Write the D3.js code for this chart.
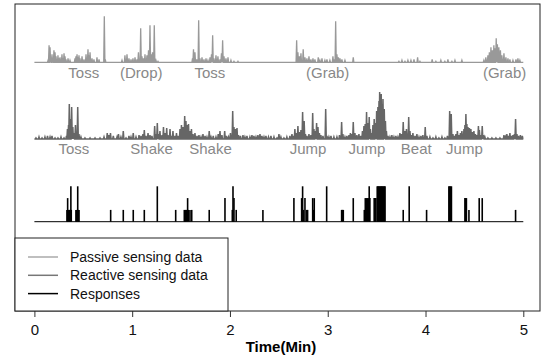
<!DOCTYPE html>
<html>
<head>
<meta charset="utf-8">
<script src="https://cdn.jsdelivr.net/npm/d3@7"></script>
<style>
  body { margin: 0; background: #fff; }
  svg { display: block; font-family: "Liberation Sans", Arial, Helvetica, sans-serif; }
  .lbl { fill: #888; font-size: 15px; }
  .tick text { font-size: 15px; fill: #111; }
</style>
</head>
<body>
<div id="chart"></div>
<script>
// time in minutes, amplitude (arbitrary units, 0..50)
const passiveData = [
  [0.140, 2], [0.150, 17], [0.160, 15], [0.172, 4], [0.180, 8], [0.192, 3], [0.200, 12], [0.211, 10],
  [0.221, 6], [0.232, 3], [0.241, 7], [0.252, 4], [0.262, 5], [0.282, 8], [0.292, 4], [0.303, 9],
  [0.313, 6], [0.323, 3], [0.344, 4], [0.364, 2], [0.415, 4], [0.425, 6], [0.436, 8], [0.446, 5],
  [0.456, 7], [0.466, 4], [0.487, 6], [0.507, 3], [0.528, 8], [0.548, 13], [0.558, 7], [0.569, 10],
  [0.589, 4], [0.609, 3], [0.640, 5], [0.661, 3], [0.715, 46], [0.725, 3],
  [0.896, 2], [0.926, 7], [0.947, 8], [0.967, 4], [0.988, 3], [1.008, 4], [1.029, 5], [1.049, 3],
  [1.064, 10], [1.087, 34], [1.100, 6], [1.116, 4], [1.131, 8], [1.151, 7], [1.167, 12], [1.182, 37],
  [1.197, 8], [1.208, 10], [1.226, 37], [1.243, 2], [1.264, 1],
  [1.617, 4], [1.627, 13], [1.642, 10], [1.660, 3], [1.680, 42], [1.693, 4], [1.714, 5], [1.734, 3],
  [1.755, 4], [1.775, 2], [1.796, 5], [1.811, 8], [1.823, 27], [1.836, 4], [1.857, 7], [1.877, 6],
  [1.898, 3], [1.913, 9], [1.925, 22], [1.939, 6], [1.959, 4], [1.980, 5], [2.010, 2], [2.041, 1], [2.082, 1],
  [2.682, 22], [2.695, 10], [2.711, 6], [2.726, 9], [2.749, 13], [2.767, 5], [2.787, 4], [2.808, 6],
  [2.828, 3], [2.849, 4], [2.869, 3], [2.903, 5], [2.920, 2], [2.941, 4], [2.971, 2], [2.992, 3],
  [3.022, 2], [3.053, 6], [3.068, 3], [3.081, 41], [3.094, 8], [3.109, 5], [3.125, 4], [3.145, 3],
  [3.176, 2], [3.261, 5],
  [3.728, 1], [3.759, 2], [3.790, 1], [3.820, 2], [3.851, 2], [3.882, 3], [3.919, 5], [3.943, 1],
  [4.068, 3], [4.106, 1], [4.157, 2], [4.198, 1], [4.229, 3], [4.270, 1], [4.301, 2], [4.372, 2],
  [4.597, 2], [4.617, 5], [4.638, 7], [4.653, 10], [4.669, 15], [4.684, 12], [4.699, 17], [4.710, 14],
  [4.723, 24], [4.735, 18], [4.750, 15], [4.766, 12], [4.781, 7], [4.802, 9], [4.822, 5], [4.843, 4],
  [4.863, 3], [4.894, 2], [4.925, 3], [4.945, 4], [4.965, 2]
];

const reactiveData = [
  [0.016, 1], [0.047, 2], [0.078, 1], [0.108, 2], [0.134, 3], [0.160, 2], [0.180, 3], [0.211, 1],
  [0.241, 1], [0.272, 2], [0.303, 1], [0.328, 3], [0.338, 10], [0.349, 14], [0.357, 35], [0.367, 20],
  [0.381, 32], [0.393, 12], [0.405, 6], [0.420, 14], [0.443, 32], [0.456, 5], [0.476, 2], [0.517, 1],
  [0.569, 1], [0.620, 1], [0.671, 1], [0.712, 2], [0.745, 6], [0.763, 4], [0.778, 6], [0.807, 3],
  [0.845, 2], [0.860, 5], [0.885, 2], [0.909, 8], [0.937, 1], [0.967, 3], [0.988, 2], [1.011, 6],
  [1.039, 2], [1.070, 4], [1.090, 3], [1.110, 5], [1.124, 9], [1.141, 3], [1.162, 6], [1.182, 4],
  [1.202, 3], [1.230, 13], [1.243, 5], [1.257, 16], [1.269, 5], [1.284, 8], [1.305, 4], [1.320, 12],
  [1.335, 6], [1.353, 11], [1.366, 4], [1.387, 10], [1.402, 3], [1.417, 8], [1.438, 3], [1.453, 6],
  [1.468, 3], [1.489, 10], [1.504, 14], [1.519, 12], [1.537, 23], [1.550, 18], [1.563, 14], [1.576, 15],
  [1.591, 8], [1.606, 10], [1.622, 5], [1.642, 6], [1.663, 3], [1.683, 4], [1.704, 2], [1.724, 5],
  [1.745, 3], [1.765, 2], [1.788, 8], [1.806, 2], [1.829, 3], [1.857, 2], [1.880, 5], [1.898, 8],
  [1.918, 4], [1.946, 8], [1.964, 3], [1.985, 2], [2.005, 6], [2.028, 28], [2.041, 12], [2.056, 10],
  [2.072, 11], [2.087, 4], [2.107, 3], [2.133, 4], [2.153, 2], [2.174, 3], [2.204, 2], [2.225, 4],
  [2.245, 3], [2.266, 2], [2.286, 4], [2.307, 5], [2.327, 3], [2.348, 2], [2.368, 3], [2.394, 2],
  [2.419, 3], [2.450, 2], [2.481, 1], [2.501, 5], [2.521, 2], [2.552, 1], [2.582, 2], [2.613, 3],
  [2.634, 5], [2.649, 3], [2.664, 10], [2.680, 6], [2.695, 13], [2.711, 7], [2.726, 9], [2.743, 27],
  [2.759, 18], [2.772, 5], [2.787, 3], [2.808, 5], [2.828, 4], [2.846, 26], [2.859, 10], [2.874, 8],
  [2.886, 16], [2.900, 12], [2.915, 6], [2.930, 4], [2.951, 3], [2.979, 30], [2.992, 3], [3.012, 2],
  [3.033, 3], [3.063, 2], [3.094, 2], [3.120, 4], [3.142, 17], [3.155, 5], [3.176, 2], [3.196, 3],
  [3.217, 4], [3.232, 6], [3.247, 5], [3.261, 17], [3.278, 6], [3.298, 4], [3.319, 5], [3.339, 3],
  [3.355, 8], [3.370, 13], [3.383, 15], [3.397, 27], [3.411, 16], [3.424, 22], [3.436, 10], [3.447, 6],
  [3.462, 14], [3.475, 20], [3.488, 16], [3.500, 28], [3.513, 32], [3.524, 38], [3.531, 47], [3.539, 40],
  [3.547, 45], [3.556, 35], [3.565, 40], [3.578, 30], [3.590, 18], [3.600, 8], [3.616, 3], [3.636, 2],
  [3.656, 4], [3.677, 2], [3.697, 3], [3.718, 2], [3.738, 6], [3.754, 5], [3.772, 17], [3.790, 8],
  [3.805, 10], [3.828, 22], [3.841, 8], [3.856, 4], [3.871, 6], [3.892, 3], [3.912, 5], [3.933, 2],
  [3.953, 3], [3.973, 4], [3.997, 12], [4.014, 3], [4.045, 2], [4.076, 1], [4.106, 2], [4.137, 1],
  [4.168, 2], [4.198, 1], [4.224, 3], [4.247, 28], [4.263, 25], [4.280, 5], [4.296, 3], [4.311, 5],
  [4.326, 8], [4.342, 4], [4.357, 6], [4.372, 8], [4.382, 5], [4.393, 10], [4.403, 14], [4.413, 25],
  [4.423, 15], [4.434, 12], [4.449, 11], [4.464, 10], [4.480, 7], [4.495, 8], [4.510, 5], [4.526, 4],
  [4.541, 13], [4.551, 9], [4.566, 4], [4.580, 13], [4.592, 4], [4.607, 2], [4.638, 1], [4.679, 1],
  [4.720, 1], [4.761, 1], [4.802, 4], [4.817, 2], [4.832, 5], [4.847, 3], [4.863, 6], [4.878, 3],
  [4.894, 4], [4.909, 5], [4.921, 20], [4.935, 5], [4.950, 3], [4.970, 4], [4.990, 3]
];

// time in minutes, response level (1..3)
const responses = [
  [0.333, 1], [0.340, 2], [0.346, 1], [0.353, 1], [0.360, 1], [0.367, 1], [0.373, 3], [0.377, 1],
  [0.425, 1], [0.432, 1], [0.443, 3], [0.450, 1], [0.456, 1],
  [0.780, 1], [0.909, 1], [1.011, 1], [1.124, 1], [1.257, 3], [1.445, 1],
  [1.533, 1], [1.540, 1], [1.547, 1], [1.554, 1], [1.567, 2], [1.574, 1], [1.591, 1], [1.609, 1],
  [1.788, 1], [1.949, 2], [2.024, 1], [2.031, 3], [2.041, 2], [2.064, 1], [2.337, 1],
  [2.654, 2], [2.733, 2], [2.743, 3], [2.750, 1], [2.767, 2], [2.784, 1], [2.794, 1],
  [2.846, 2], [2.854, 1], [2.862, 2], [2.989, 3], [3.142, 1], [3.150, 1], [3.159, 1], [3.261, 2],
  [3.374, 1], [3.384, 2], [3.394, 2], [3.404, 2], [3.414, 2], [3.424, 3], [3.431, 2],
  [3.475, 2], [3.484, 2], [3.492, 2],
  [3.506, 3], [3.514, 3], [3.522, 3], [3.530, 3], [3.538, 3], [3.546, 3], [3.554, 3], [3.562, 3],
  [3.570, 3], [3.578, 3], [3.586, 3],
  [3.772, 1], [3.833, 3], [4.011, 1], [4.239, 3], [4.247, 3], [4.256, 3], [4.265, 3],
  [4.403, 2], [4.411, 2], [4.418, 2], [4.444, 1], [4.549, 2], [4.580, 2], [4.921, 1]
];

const passiveLabels = [["Toss", 0.505], ["(Drop)", 1.093], ["Toss", 1.795], ["(Grab)", 2.999], ["(Grab)", 4.809]];
const reactiveLabels = [["Toss", 0.403], ["Shake", 1.199], ["Shake", 1.801], ["Jump", 2.798],
  ["Jump", 3.401], ["Beat", 3.905], ["Jump", 4.398]];
const xTicks = [0, 1, 2, 3, 4, 5];
const legendItems = [["Passive sensing data", "#aaa"], ["Reactive sensing data", "#777"], ["Responses", "#000"]];

const width = 547, height = 362;
const box = { left: 15, right: 540, top: 4, bottom: 311 };

const svg = d3.select("#chart").append("svg")
  .attr("width", width)
  .attr("height", height);

const x = d3.scaleLinear().domain([0, 5]).range([34.4, 523.3]);
const yP = d3.scaleLinear().domain([0, 50]).range([62.3, 12.3]);
const yR = d3.scaleLinear().domain([0, 50]).range([139, 89]);
const yS = d3.scaleLinear().domain([0, 3]).range([221.7, 186.3]);

// each sample is drawn as a narrow spike on a baseline
const hw = 0.006;
function spikes(data) {
  const pts = [[0, 0]];
  data.forEach(([t, v]) => { pts.push([t - hw, 0], [t, v], [t + hw, 0]); });
  pts.push([5, 0]);
  return pts;
}

svg.append("path")
  .attr("d", d3.line().x(d => x(d[0])).y(d => yP(d[1]))(spikes(passiveData)))
  .attr("fill", "none")
  .attr("stroke", "#999")
  .attr("stroke-width", 1.3);

svg.append("path")
  .attr("d", d3.line().x(d => x(d[0])).y(d => yR(d[1]))(spikes(reactiveData)))
  .attr("fill", "none")
  .attr("stroke", "#666")
  .attr("stroke-width", 1.5);

svg.append("line")
  .attr("x1", x(0)).attr("x2", x(5))
  .attr("y1", yS(0)).attr("y2", yS(0))
  .attr("stroke", "#000");

svg.selectAll("line.resp")
  .data(responses)
  .enter()
  .append("line")
  .attr("class", "resp")
  .attr("x1", d => x(d[0])).attr("x2", d => x(d[0]))
  .attr("y1", yS(0)).attr("y2", d => yS(d[1]))
  .attr("stroke", "#000")
  .attr("stroke-width", 1.6);

svg.selectAll("text.plbl")
  .data(passiveLabels)
  .enter()
  .append("text")
  .attr("class", "lbl")
  .attr("x", d => x(d[1]))
  .attr("y", 78)
  .attr("text-anchor", "middle")
  .text(d => d[0]);

svg.selectAll("text.rlbl")
  .data(reactiveLabels)
  .enter()
  .append("text")
  .attr("class", "lbl")
  .attr("x", d => x(d[1]))
  .attr("y", 153.5)
  .attr("text-anchor", "middle")
  .text(d => d[0]);

// frame
svg.append("rect")
  .attr("x", box.left).attr("y", box.top)
  .attr("width", box.right - box.left).attr("height", box.bottom - box.top)
  .attr("fill", "none")
  .attr("stroke", "#222");

const xAxis = d3.axisBottom(x).tickValues(xTicks).tickSize(6).tickPadding(7).tickFormat(d3.format("d"));
const gx = svg.append("g")
  .attr("transform", `translate(0, ${box.bottom})`)
  .call(xAxis);
gx.select(".domain").remove();
gx.selectAll(".tick line").attr("stroke", "#333");

svg.append("text")
  .attr("x", 281)
  .attr("y", 352)
  .attr("text-anchor", "middle")
  .style("font-weight", "bold")
  .style("font-size", "15px")
  .text("Time(Min)");

// legend
const lg = svg.append("g");
lg.append("rect")
  .attr("x", box.left).attr("y", 238)
  .attr("width", 228 - box.left).attr("height", box.bottom - 238)
  .attr("fill", "#fff")
  .attr("stroke", "#222");

legendItems.forEach(([name, col], i) => {
  const yy = 257 + i * 18.3;
  lg.append("line")
    .attr("x1", 28).attr("x2", 58)
    .attr("y1", yy).attr("y2", yy)
    .attr("stroke", col)
    .attr("stroke-width", 1.5);
  lg.append("text")
    .attr("x", 70)
    .attr("y", yy + 5)
    .style("font-size", "14px")
    .attr("fill", "#111")
    .text(name);
});
</script>
</body>
</html>
